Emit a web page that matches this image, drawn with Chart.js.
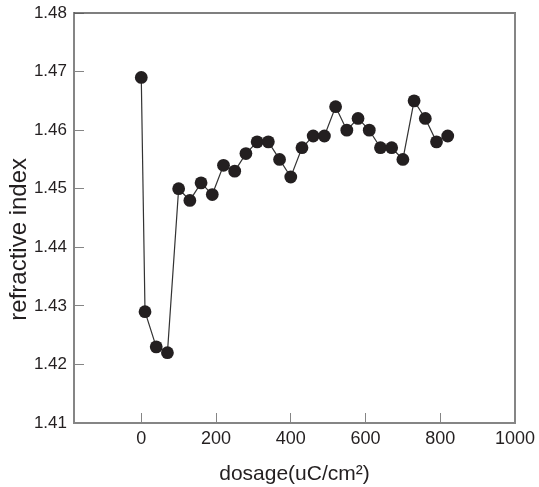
<!DOCTYPE html>
<html>
<head>
<meta charset="utf-8">
<script src="https://cdn.jsdelivr.net/npm/chart.js@4.4.0/dist/chart.umd.min.js"></script>
<style>
  html, body { margin: 0; padding: 0; background: #fff; }
  #wrap { width: 539px; height: 487px; }
</style>
</head>
<body>
<div id="wrap"><canvas id="chart" width="539" height="487"></canvas></div>
<script>
// dosage (uC/cm^2) vs measured refractive index
const dosage = [0, 10, 40, 70, 100, 130, 160, 190, 220, 250, 280, 310, 340, 370, 400,
  430, 460, 490, 520, 550, 580, 610, 640, 670, 700, 730, 760, 790, 820];
const refractiveIndex = [1.469, 1.429, 1.423, 1.422, 1.450, 1.448, 1.451, 1.449, 1.454, 1.453,
  1.456, 1.458, 1.458, 1.455, 1.452, 1.457, 1.459, 1.459, 1.464, 1.460,
  1.462, 1.460, 1.457, 1.457, 1.455, 1.465, 1.462, 1.458, 1.459];
const xTicks = [0, 200, 400, 600, 800, 1000];
const yTicks = [1.41, 1.42, 1.43, 1.44, 1.45, 1.46, 1.47, 1.48];

const INK = '#231f20';
const AXIS = '#858585';
const FONT = '"Liberation Sans", Arial, Helvetica, sans-serif';

// fixed axis sizes, and no extra room for overhanging tick labels
function fixSize(s, w, h) {
  if (w) s.width = w;
  if (h) s.height = h;
  s.paddingTop = 0;
  s.paddingBottom = 0;
  s.paddingLeft = 0;
  s.paddingRight = 0;
}

// closes the box on top/right and draws the rotated y label
const frame = {
  id: 'frame',
  beforeDatasetsDraw(chart) {
    const { ctx, chartArea: a } = chart;
    ctx.save();
    ctx.lineWidth = 1.5;
    ctx.strokeStyle = '#555';
    ctx.beginPath();
    ctx.moveTo(a.left, a.top);
    ctx.lineTo(a.right + 1, a.top);
    ctx.stroke();
    ctx.lineWidth = 2;
    ctx.strokeStyle = AXIS;
    ctx.beginPath();
    ctx.moveTo(a.right, a.top);
    ctx.lineTo(a.right, a.bottom);
    ctx.stroke();

    ctx.translate(19, a.top + (a.bottom - a.top) * 0.552);
    ctx.rotate(-Math.PI / 2);
    ctx.fillStyle = INK;
    ctx.font = '24px ' + FONT;
    ctx.textAlign = 'center';
    ctx.textBaseline = 'middle';
    ctx.fillText('refractive index', 0, 0);
    ctx.restore();
  }
};

new Chart(document.getElementById('chart'), {
  type: 'scatter',
  data: {
    datasets: [{
      data: dosage.map((x, i) => ({ x: x, y: refractiveIndex[i] })),
      showLine: true,
      borderColor: '#333',
      borderWidth: 1.2,
      pointRadius: 6.4,
      pointBorderWidth: 0,
      pointBackgroundColor: INK,
      pointBorderColor: INK
    }]
  },
  options: {
    responsive: false,
    animation: false,
    layout: { padding: { top: 13, right: 24, left: 0, bottom: 0 } },
    plugins: { legend: { display: false }, tooltip: { enabled: false } },
    scales: {
      x: {
        type: 'linear',
        min: -180,
        max: 1000,
        afterBuildTicks: (s) => { s.ticks = xTicks.map((v) => ({ value: v })); },
        afterFit: (s) => fixSize(s, 0, 64),
        border: { color: AXIS, width: 2 },
        grid: { drawOnChartArea: false, tickLength: -10, color: AXIS, lineWidth: 1 },
        ticks: {
          color: INK,
          padding: 15,
          maxRotation: 0,
          font: { family: FONT, size: 18 },
          callback: (v) => String(v)
        },
        title: {
          display: true,
          text: 'dosage(uC/cm²)',
          color: INK,
          padding: { top: 0, bottom: 0 },
          font: { family: FONT, size: 21 }
        }
      },
      y: {
        min: 1.41,
        max: 1.48,
        afterBuildTicks: (s) => { s.ticks = yTicks.map((v) => ({ value: v })); },
        afterFit: (s) => fixSize(s, 74, 0),
        border: { color: AXIS, width: 2 },
        grid: { drawOnChartArea: false, tickLength: -10, color: AXIS, lineWidth: 1 },
        ticks: {
          color: INK,
          padding: 17,
          font: { family: FONT, size: 17 },
          callback: (v) => v.toFixed(2)
        }
      }
    }
  },
  plugins: [frame]
});
</script>
</body>
</html>
